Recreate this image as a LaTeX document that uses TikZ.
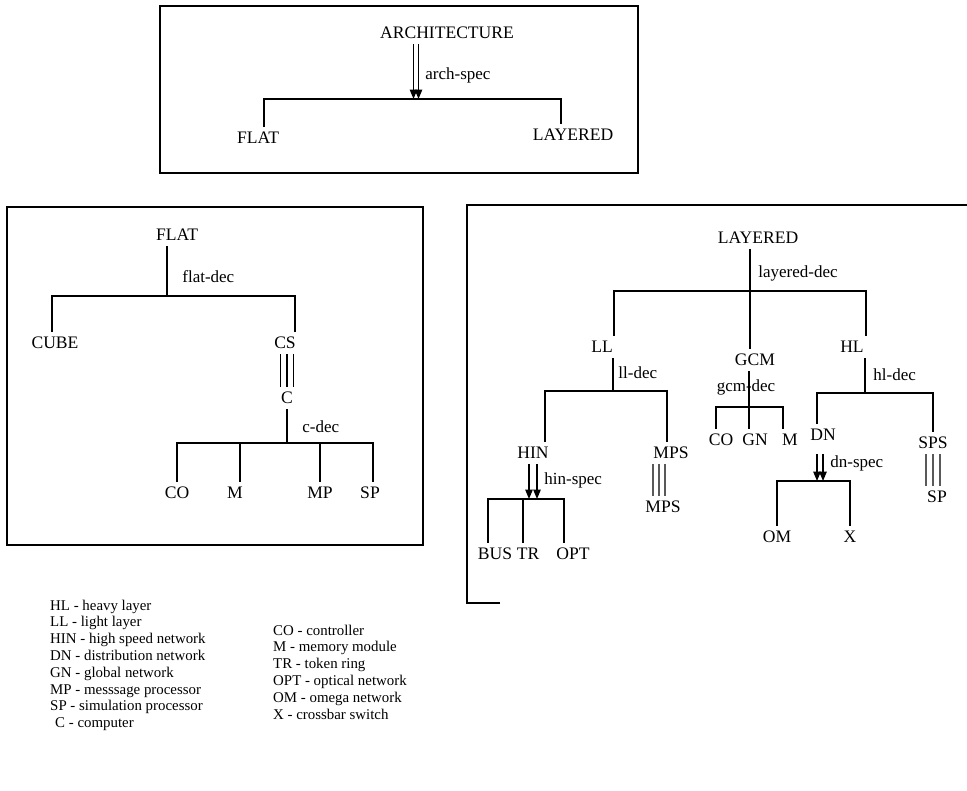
\documentclass[tikz,border=0pt]{standalone}
\usepackage{fontspec}
\setmainfont{Liberation Serif}
\usetikzlibrary{arrows.meta,positioning}
\tikzset{
  lab/.style={font=\fontsize{15}{17}\selectfont, inner sep=4.2pt},
  rel/.style={font=\fontsize{14.5}{16}\selectfont, inner sep=1pt, anchor=west},
  leg/.style={font=\fontsize{12.7}{14}\selectfont, inner sep=0pt, anchor=base west},
  tl/.style={line width=1.6pt},
  bar/.style={line width=1.2pt},
  spec/.style={-{Triangle[length=2.8mm, width=2.2mm]}, line width=1.2pt},
  frame/.style={line width=1.2pt},
}

\begin{document}
\begin{tikzpicture}[x=0.3mm,y=-0.3mm]
  \useasboundingbox (0,0) rectangle (967,790);

  % architecture
  \draw[frame] (160,6) rectangle (638,173);
  \node[lab] (arch) at (447,33) {ARCHITECTURE};
  \coordinate (archJ) at (416,99);
  \draw[spec, transform canvas={xshift=-0.75mm}] (archJ |- arch.south) -- (archJ);
  \draw[spec, transform canvas={xshift=0.75mm}] (archJ |- arch.south) -- (archJ);
  \node[rel] at (424,75) {arch-spec};
  \node[lab] (flatA) at (258,138) {FLAT};
  \node[lab] (layA) at (573,135) {LAYERED};
  \draw[tl] ([xshift=1.8mm]flatA.north) |- (archJ) -| ([xshift=-3.6mm]layA.north);

  % flat
  \draw[frame] (7,207) rectangle (423,545);
  \node[lab] (flatB) at (177,235) {FLAT};
  \coordinate (flatJ) at (167,296);
  \draw[tl] (flatJ |- flatB.south) -- (flatJ);
  \node[rel] at (181,277) {flat-dec};
  \node[lab] (cube) at (55,343) {CUBE};
  \node[lab] (cs) at (285,343) {CS};
  \draw[tl] ([xshift=-0.9mm]cube.north) |- (flatJ) -| ([xshift=3mm]cs.north);
  \node[lab] (c) at (287,398) {C};
  \draw[bar] (c.north |- cs.south) -- (c.north);
  \draw[bar, transform canvas={xshift=-2mm}] (c.north |- cs.south) -- (c.north);
  \draw[bar, transform canvas={xshift=2mm}] (c.north |- cs.south) -- (c.north);
  \coordinate (cJ) at (287,443);
  \draw[tl] (c.south) -- (cJ);
  \node[rel] at (301,427) {c-dec};
  \node[lab] (co) at (177,493) {CO};
  \node[lab] (m) at (235,493) {M};
  \node[lab] (mp) at (320,493) {MP};
  \node[lab] (sp) at (370,493) {SP};
  \draw[tl] (co.north) |- (cJ) -| ([xshift=0.9mm]sp.north);
  \draw[tl] ([xshift=1.5mm]m.north) |- (cJ);
  \draw[tl] (mp.north) |- (cJ);

  % layered
  \draw[frame] (500,603) -| (467,205) -- (967,205);
  \node[lab] (layB) at (758,238) {LAYERED};
  \coordinate (layJ) at (750,291);
  \draw[tl] (layJ |- layB.south) -- (layJ);
  \node[rel] at (757,273) {layered-dec};
  \node[lab] (ll) at (602,347) {LL};
  \node[lab] (gcm) at (755,360) {GCM};
  \node[lab] (hl) at (852,347) {HL};
  \draw[tl] ([xshift=3.6mm]ll.north) |- (layJ) -| ([xshift=4.2mm]hl.north);
  \draw[tl] (gcm.north -| layJ) -- (layJ);

  % light layer
  \coordinate (llJ) at (613,391);
  \draw[tl] (llJ |- ll.south) -- (llJ);
  \node[rel] at (617,373) {ll-dec};
  \node[lab] (hin) at (533,453) {HIN};
  \node[lab] (mps) at (671,453) {MPS};
  \draw[tl] ([xshift=3.6mm]hin.north) |- (llJ) -| ([xshift=-1.2mm]mps.north);
  \coordinate (hinJ) at (533,499);
  \draw[spec, transform canvas={xshift=-1.2mm}] (hinJ |- hin.south) -- (hinJ);
  \draw[spec, transform canvas={xshift=1.2mm}] (hinJ |- hin.south) -- (hinJ);
  \node[rel] at (543,480) {hin-spec};
  \node[lab] (bus) at (495,554) {BUS};
  \node[lab] (tr) at (528,554) {TR};
  \node[lab] (opt) at (573,554) {OPT};
  \draw[tl] ([xshift=-2.1mm]bus.north) |- (hinJ) -| ([xshift=-2.7mm]opt.north);
  \draw[tl] ([xshift=-1.5mm]tr.north) |- (hinJ);
  \node[lab] (mps2) at (663,507) {MPS};
  \draw[bar] ([xshift=-3.6mm]mps.south) -- ([xshift=-1.2mm]mps2.north);
  \draw[bar, transform canvas={xshift=-1.8mm}] ([xshift=-3.6mm]mps.south) -- ([xshift=-1.2mm]mps2.north);
  \draw[bar, transform canvas={xshift=1.8mm}] ([xshift=-3.6mm]mps.south) -- ([xshift=-1.2mm]mps2.north);

  % gcm
  \coordinate (gcmJ) at (749,407);
  \draw[tl] (gcmJ |- gcm.south) -- (gcmJ);
  \node[rel, anchor=center] at (746,387) {gcm-dec};
  \node[lab] (gco) at (721,440) {CO};
  \node[lab] (ggn) at (755,440) {GN};
  \node[lab] (gm) at (790,440) {M};
  \draw[tl] ([xshift=-1.5mm]gco.north) |- (gcmJ) -| ([xshift=-2.1mm]gm.north);
  \draw[tl] ([xshift=-1.8mm]ggn.north) |- (gcmJ);

  % heavy layer
  \coordinate (hlJ) at (865,393);
  \draw[tl] (hlJ |- hl.south) -- (hlJ);
  \node[rel] at (872,375) {hl-dec};
  \node[lab] (dn) at (823,435) {DN};
  \node[lab] (sps) at (933,443) {SPS};
  \draw[tl] ([xshift=-1.8mm]dn.north) |- (hlJ) -| (sps.north);
  \coordinate (dnJ) at (820,481);
  \draw[spec, shorten <=2.5mm, transform canvas={xshift=-0.9mm}] (dnJ |- dn.south) -- (dnJ);
  \draw[spec, shorten <=2.5mm, transform canvas={xshift=0.9mm}] (dnJ |- dn.south) -- (dnJ);
  \node[rel] at (829,463) {dn-spec};
  \node[lab] (om) at (777,537) {OM};
  \node[lab] (xbar) at (850,537) {X};
  \draw[tl] (om.north) |- (dnJ) -| (xbar.north);
  \node[lab] (sp2) at (937,497) {SP};
  \draw[bar] (sps.south) -- ([xshift=-1.2mm]sp2.north);
  \draw[bar, transform canvas={xshift=-2.1mm}] (sps.south) -- ([xshift=-1.2mm]sp2.north);
  \draw[bar, transform canvas={xshift=2.1mm}] (sps.south) -- ([xshift=-1.2mm]sp2.north);

  % legend
  \node[leg] (lHL) at (50,610) {HL - heavy layer};
  \node[leg, below=5.04mm of lHL.base west, anchor=base west] (lLL) {LL - light layer};
  \node[leg, below=5.04mm of lLL.base west, anchor=base west] (lHIN) {HIN - high speed network};
  \node[leg, below=5.04mm of lHIN.base west, anchor=base west] (lDN) {DN - distribution network};
  \node[leg, below=5.04mm of lDN.base west, anchor=base west] (lGN) {GN - global network};
  \node[leg, below=5.04mm of lGN.base west, anchor=base west] (lMP) {MP - messsage processor};
  \node[leg, below=5.04mm of lMP.base west, anchor=base west] (lSP) {SP - simulation processor};
  \node[leg, below=5.04mm of lSP.base west, anchor=base west, xshift=1.5mm] (lC) {C - computer};
  \node[leg] (lCO) at (273,635) {CO - controller};
  \node[leg, below=5.04mm of lCO.base west, anchor=base west] (lM) {M - memory module};
  \node[leg, below=5.04mm of lM.base west, anchor=base west] (lTR) {TR - token ring};
  \node[leg, below=5.04mm of lTR.base west, anchor=base west] (lOPT) {OPT - optical network};
  \node[leg, below=5.04mm of lOPT.base west, anchor=base west] (lOM) {OM - omega network};
  \node[leg, below=5.04mm of lOM.base west, anchor=base west] (lX) {X - crossbar switch};
\end{tikzpicture}
\end{document}
